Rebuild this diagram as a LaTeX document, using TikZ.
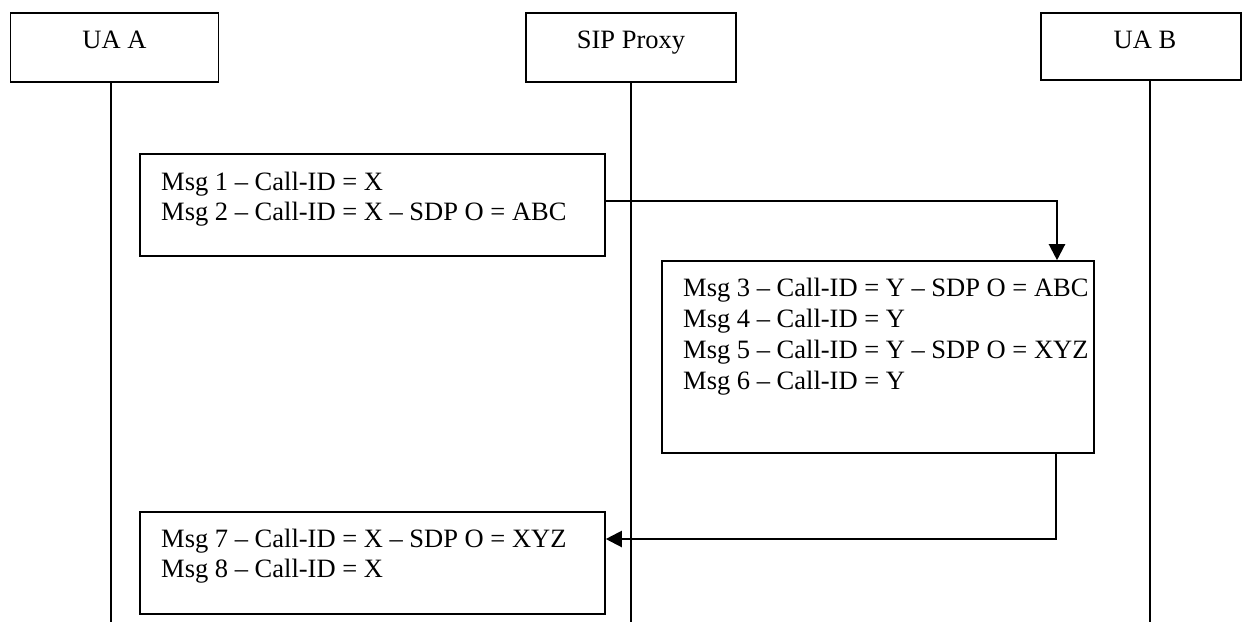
\documentclass[tikz,border=0pt]{standalone}
\usepackage{fontspec}
\setmainfont{Liberation Serif}
\usetikzlibrary{arrows.meta,calc}
\begin{document}
\begin{tikzpicture}[x=1pt,y=-1pt,
  box/.style={draw=black, line width=1.6pt, inner sep=0pt, rectangle},
  txt/.style={inner sep=0pt, font=\fontsize{26.5}{30}\selectfont},
  life/.style={draw=black, line width=1.3pt},
  arr/.style={draw=black, line width=2.2pt, -{Triangle[length=16pt,width=16pt]}}]
\useasboundingbox (0,0) rectangle (1242,625);
% header boxes
\node[box, minimum width=208, minimum height=69] (uaA) at (114.5,47.5) {};
\node[box, minimum width=210, minimum height=69] (proxy) at (631,47.5) {};
\node[box, minimum width=200, minimum height=67] (uaB) at (1141,46.5) {};
\node[txt, anchor=base] (tA) at (114.5,48) {UA A};
\node[txt, anchor=base] (tP) at (631,48) {SIP Proxy};
\node[txt, anchor=base] (tB) at (1145,48) {UA B};
% lifelines
\coordinate (endA) at (111,622);
\coordinate (endP) at (631,622);
\coordinate (endB) at (1150,622);
\draw[life] (endA |- uaA.south) -- (endA);
\draw[life] (endP |- proxy.south) -- (endP);
\draw[life] (endB |- uaB.south) -- (endB);
% message boxes
\node[box, minimum width=465, minimum height=102] (m1) at (372.5,205) {};
\node[box, minimum width=432, minimum height=192] (m2) at (878,357) {};
\node[box, minimum width=465, minimum height=102] (m3) at (372.5,563) {};
\node[txt, anchor=base west] (l1) at (161,190) {Msg 1 – Call-ID = X};
\node[txt, anchor=base west] (l2) at (161,220) {Msg 2 – Call-ID = X – SDP O = ABC};
\node[txt, anchor=base west] (l3) at (683,296) {Msg 3 – Call-ID = Y – SDP O = ABC};
\node[txt, anchor=base west] (l4) at (683,327) {Msg 4 – Call-ID = Y};
\node[txt, anchor=base west] (l5) at (683,358) {Msg 5 – Call-ID = Y – SDP O = XYZ};
\node[txt, anchor=base west] (l6) at (683,389) {Msg 6 – Call-ID = Y};
\node[txt, anchor=base west] (l7) at (161,547) {Msg 7 – Call-ID = X – SDP O = XYZ};
\node[txt, anchor=base west] (l8) at (161,577) {Msg 8 – Call-ID = X};
% connectors
\draw[arr] ([yshift=4pt]m1.east) -| ([xshift=179pt]m2.north);
\draw[arr] ([xshift=178pt]m2.south) |- ([yshift=24pt]m3.east);
\end{tikzpicture}
\end{document}
